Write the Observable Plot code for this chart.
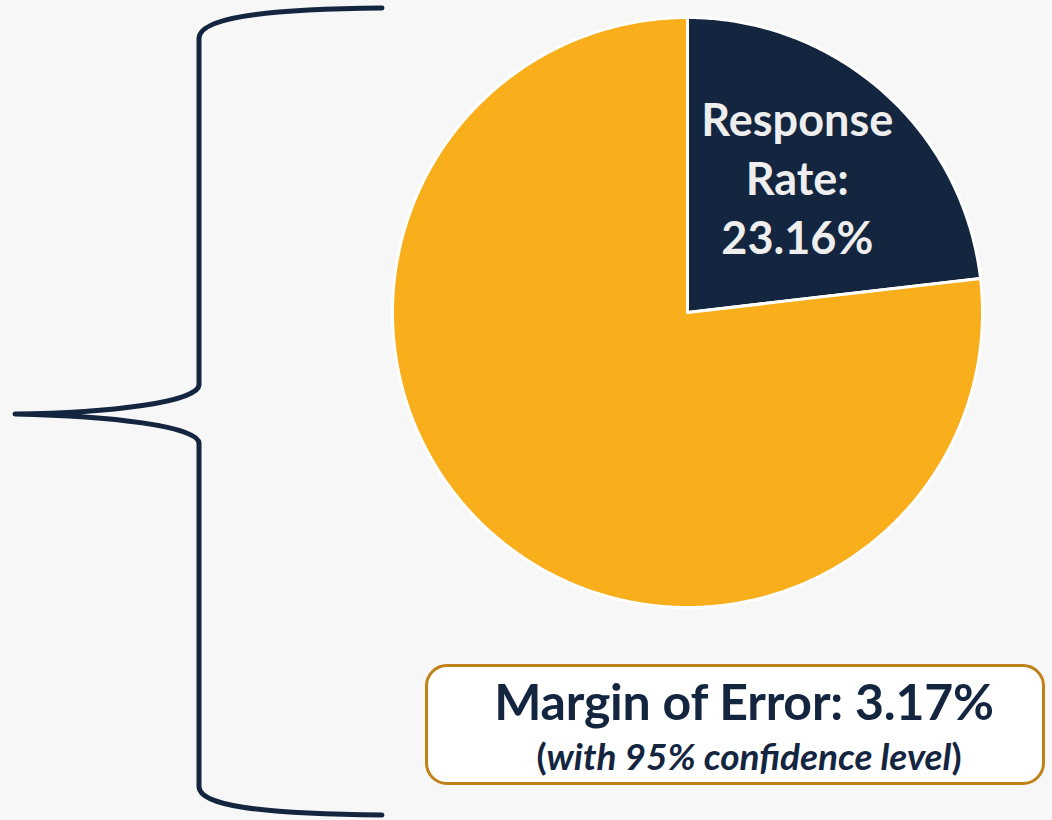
<!DOCTYPE html>
<html>
<head>
<meta charset="utf-8">
<script src="https://cdn.jsdelivr.net/npm/d3@7"></script>
<script src="https://cdn.jsdelivr.net/npm/@observablehq/plot@0.6"></script>
<style>
  html, body { margin: 0; padding: 0; background: #f7f7f7; }
  #wrap { position: relative; width: 1052px; height: 820px; overflow: hidden; background: #f7f7f7; font-family: Lato, "Open Sans", sans-serif; }
  #chart { position: absolute; left: 0; top: 0; }
  #brace { position: absolute; left: 0; top: 0; }
  #moe {
    position: absolute; left: 425px; top: 664px; width: 620px; height: 121px;
    box-sizing: border-box; border: 3px solid #bf8219; border-radius: 22px; background: #ffffff;
    color: #14253f; text-align: center; padding-left: 18px;
  }
  #moe .l1 { font-weight: 700; font-size: 50px; line-height: 54px; margin-top: 7px; letter-spacing: -0.2px; white-space: nowrap; }
  #moe .l2 { font-weight: 700; font-size: 37px; line-height: 40px; margin-top: 8px; white-space: nowrap; padding-left: 10px; }
</style>
</head>
<body>
<div id="wrap">
  <div id="chart"></div>
  <svg id="brace" width="1052" height="820">
    <path d="M382,8 C262,9 200,18 199,38 L199,385 C198,402 110,413 15,414 C110,416 198,426 199,443 L199,787 C200,806 262,814 382,815"
          fill="none" stroke="#14253f" stroke-width="5" stroke-linecap="round" stroke-linejoin="round"/>
  </svg>
  <div id="moe">
    <div class="l1">Margin of Error: 3.17%</div>
    <div class="l2">(<i>with 95% confidence level</i>)</div>
  </div>
</div>
<script>
// ---- data ----
const categories = ["Response Rate", "Non-response"];
const shares = [23.16, 76.84];           // percent
const sliceColors = ["#14253f", "#f9ae1c"];
const labelLines = ["Response", "Rate:", "23.16%"];

// ---- build slice outlines from the pie layout ----
const arcs = d3.pie().sort(null).startAngle(0).endAngle(2 * Math.PI)(shares);
const slices = arcs.map((a, i) => {
  const pts = [{x: 0, y: 0}];
  const n = Math.max(8, Math.ceil((a.endAngle - a.startAngle) / (Math.PI / 360)));
  for (let k = 0; k <= n; k++) {
    const t = a.startAngle + (a.endAngle - a.startAngle) * k / n;
    pts.push({x: Math.sin(t), y: Math.cos(t)});
  }
  pts.push({x: 0, y: 0});
  return {name: categories[i], color: sliceColors[i], pts};
});
const first = arcs[0];
const mid = (first.startAngle + first.endAngle) / 2;
const labelR = 0.58;
const labels = [{x: labelR * Math.sin(mid), y: labelR * Math.cos(mid), text: labelLines.join("\n")}];

const plot = Plot.plot({
  width: 1052,
  height: 820,
  marginLeft: 392,
  marginRight: 70,
  marginTop: 17,
  marginBottom: 213,
  x: {domain: [-1, 1], axis: null},
  y: {domain: [-1, 1], axis: null},
  style: {background: "transparent", overflow: "visible", fontFamily: "Lato, 'Open Sans', sans-serif"},
  marks: [
    ...slices.map(s => Plot.line(s.pts, {
      x: "x", y: "y", curve: "linear",
      fill: s.color, stroke: "#ffffff", strokeWidth: 3, strokeLinejoin: "round"
    })),
    Plot.text(labels, {
      x: "x", y: "y", text: "text", dx: -4, dy: -9,
      fill: "#eeeeee", fontSize: 45, fontWeight: "bold", lineHeight: 1.31,
      textAnchor: "middle", lineAnchor: "middle"
    })
  ]
});
document.getElementById("chart").appendChild(plot);
</script>
</body>
</html>
